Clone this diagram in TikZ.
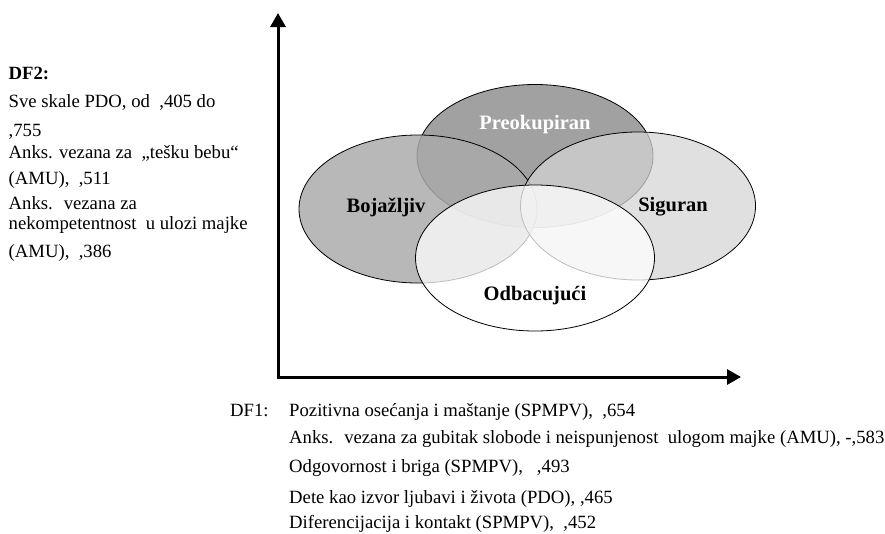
\documentclass[tikz,border=0pt]{standalone}
\usepackage{fontspec}
\setmainfont{Liberation Serif}
\usetikzlibrary{shapes.geometric,arrows.meta}
\definecolor{pfill}{gray}{0.63}
\definecolor{bfill}{gray}{0.667}
\definecolor{sfill}{gray}{0.835}
\begin{document}
\begin{tikzpicture}[x=1pt,y=-1pt,
  blob/.style={ellipse, draw=black, line width=0.8pt, inner sep=0pt},
  body/.style={anchor=base west, inner sep=0pt, font=\fontsize{18.7}{22}\selectfont},
  bodyb/.style={body, font=\fontsize{18.7}{22}\selectfont\bfseries},
  lab/.style={inner sep=0pt, font=\fontsize{20.5}{24}\selectfont\bfseries},
  axis/.style={line width=3pt, -{Triangle[length=14pt,width=15pt]}}]
\useasboundingbox (0,0) rectangle (885,533);
% axes
\coordinate (origin) at (278,377);
\coordinate (ytip) at (278,13);
\coordinate (xtip) at (741,377);
\draw[axis] ([yshift=1.5pt]origin) -- (ytip);
\draw[axis] ([xshift=-1.5pt]origin) -- (xtip);
% ellipses
\node[blob, fill=pfill, minimum width=236pt, minimum height=143pt] (P) at (535,156) {};
\node[blob, fill=bfill, fill opacity=0.84, minimum width=238pt, minimum height=148pt] (B) at (418,209) {};
\node[blob, fill=sfill, fill opacity=0.73, minimum width=235pt, minimum height=148pt] (S) at (638,206) {};
\node[blob, fill=white, fill opacity=0.74, minimum width=239pt, minimum height=146pt] (O) at (535,258) {};
% labels
\node[lab, text=white] (lP) at (535,125) {Preokupiran};
\node[lab] (lB) at (386,207) {Bojažljiv};
\node[lab] (lS) at (673,207) {Siguran};
\node[lab] (lO) at (535,296) {Odbacujući};
% DF2 text
\node[bodyb] (d2) at (8.5,79) {DF2:};
\node[body] (d2a) at (8.5,107) {Sve skale PDO, od \ ,405 do};
\node[body] (d2b) at (8.5,136) {,755};
\node[body] (d2c) at (8.5,158) {Anks. vezana za \ „tešku bebu“};
\node[body] (d2d) at (8.5,184) {(AMU), \ ,511};
\node[body] (d2e) at (8.5,209) {Anks. \ vezana za};
\node[body] (d2f) at (8.5,229) {nekompetentnost \ u ulozi majke};
\node[body] (d2g) at (8.5,257) {(AMU), \ ,386};
% DF1 text
\node[body] (d1) at (230,416) {DF1:};
\node[body] (d1a) at (289,416) {Pozitivna osećanja i maštanje (SPMPV), \ ,654};
\node[body] (d1b) at (289,443) {Anks. \ vezana za gubitak slobode i neispunjenost \ ulogom majke (AMU), -,583};
\node[body] (d1c) at (289,472) {Odgovornost i briga (SPMPV), \ \ ,493};
\node[body] (d1d) at (289,503) {Dete kao izvor ljubavi i života (PDO), ,465};
\node[body] (d1e) at (289,528) {Diferencijacija i kontakt (SPMPV), \ ,452};
\end{tikzpicture}
\end{document}
